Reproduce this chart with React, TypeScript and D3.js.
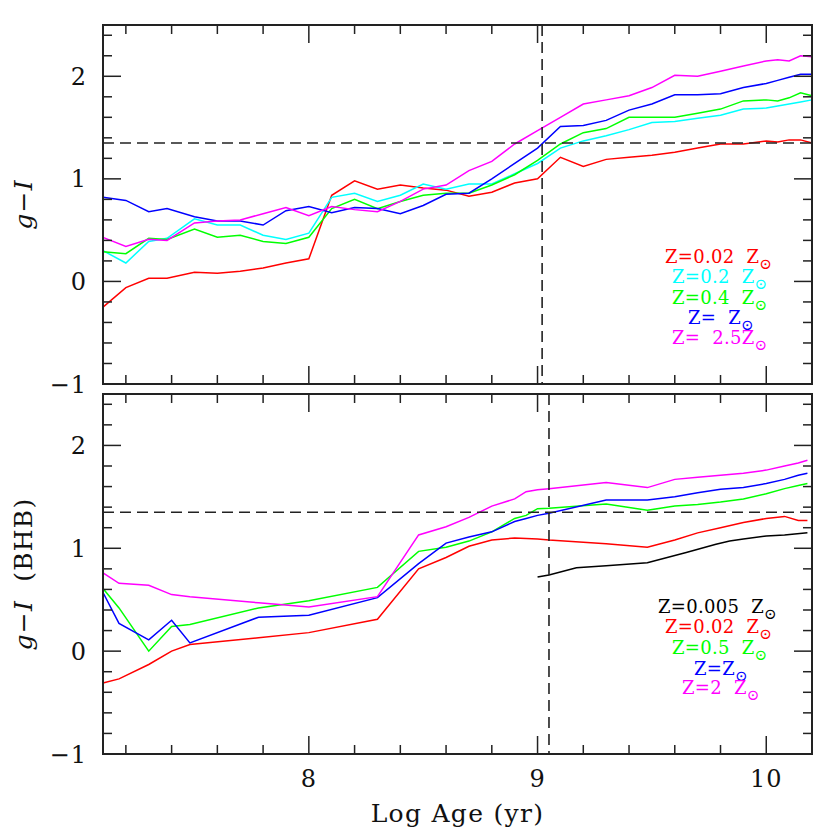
import React from "react";
import * as d3 from "d3";

// ---------- DATA ----------
const topAges = [7.1, 7.2, 7.3, 7.38, 7.5, 7.6, 7.7, 7.8, 7.9, 8.0, 8.1, 8.2, 8.3, 8.4, 8.5, 8.6, 8.7, 8.8, 8.9, 9.0, 9.1, 9.2, 9.3, 9.4, 9.5, 9.6, 9.7, 9.8, 9.9, 10.0, 10.05, 10.1, 10.15, 10.2];
const topZ002 = [-0.25, -0.06, 0.03, 0.03, 0.09, 0.08, 0.1, 0.13, 0.18, 0.22, 0.84, 0.98, 0.9, 0.94, 0.91, 0.89, 0.83, 0.87, 0.96, 1.0, 1.21, 1.12, 1.19, 1.21, 1.23, 1.26, 1.3, 1.34, 1.34, 1.37, 1.36, 1.38, 1.38, 1.35];
const topZ02 = [0.3, 0.18, 0.39, 0.42, 0.61, 0.55, 0.55, 0.45, 0.41, 0.47, 0.82, 0.86, 0.78, 0.84, 0.95, 0.9, 0.95, 0.95, 1.05, 1.15, 1.3, 1.37, 1.42, 1.48, 1.55, 1.56, 1.59, 1.62, 1.68, 1.69, 1.71, 1.73, 1.75, 1.77];
const topZ04 = [0.29, 0.27, 0.42, 0.41, 0.51, 0.43, 0.45, 0.39, 0.37, 0.43, 0.71, 0.8, 0.71, 0.78, 0.84, 0.86, 0.86, 0.94, 1.04, 1.18, 1.34, 1.45, 1.49, 1.6, 1.6, 1.6, 1.64, 1.68, 1.76, 1.77, 1.76, 1.79, 1.84, 1.81];
const topZ1 = [0.82, 0.79, 0.68, 0.71, 0.63, 0.59, 0.59, 0.55, 0.69, 0.73, 0.67, 0.72, 0.71, 0.66, 0.74, 0.85, 0.86, 1.0, 1.15, 1.3, 1.51, 1.52, 1.57, 1.67, 1.73, 1.82, 1.82, 1.83, 1.89, 1.93, 1.96, 1.99, 2.02, 2.02];
const topZ25 = [0.43, 0.34, 0.41, 0.4, 0.57, 0.59, 0.6, 0.66, 0.72, 0.64, 0.73, 0.7, 0.68, 0.78, 0.9, 0.94, 1.08, 1.17, 1.34, 1.47, 1.6, 1.73, 1.77, 1.81, 1.89, 2.01, 2.0, 2.05, 2.1, 2.15, 2.16, 2.15, 2.2, 2.19];

const botAges = [7.1, 7.17, 7.3, 7.4, 7.48, 7.78, 8.0, 8.3, 8.48, 8.6, 8.7, 8.8, 8.9, 8.95, 9.0, 9.05, 9.3, 9.48, 9.6, 9.7, 9.8, 9.9, 10.0, 10.08, 10.14, 10.18];
const botZ002 = [-0.31, -0.27, -0.13, 0.0, 0.065, 0.13, 0.18, 0.31, 0.8, 0.91, 1.02, 1.08, 1.1, 1.095, 1.09, 1.08, 1.045, 1.01, 1.08, 1.15, 1.2, 1.25, 1.29, 1.31, 1.27, 1.27];
const botZ05 = [0.61, 0.42, 0.0, 0.24, 0.26, 0.42, 0.49, 0.62, 0.97, 1.01, 1.07, 1.16, 1.29, 1.32, 1.385, 1.39, 1.43, 1.37, 1.41, 1.425, 1.45, 1.48, 1.53, 1.58, 1.61, 1.63];
const botZ1 = [0.57, 0.27, 0.11, 0.3, 0.08, 0.33, 0.35, 0.52, 0.85, 1.05, 1.11, 1.16, 1.26, 1.29, 1.32, 1.34, 1.47, 1.47, 1.5, 1.54, 1.575, 1.59, 1.63, 1.67, 1.71, 1.73];
const botZ2 = [0.76, 0.66, 0.64, 0.55, 0.53, 0.47, 0.43, 0.53, 1.13, 1.21, 1.3, 1.41, 1.48, 1.55, 1.57, 1.58, 1.64, 1.59, 1.67, 1.69, 1.71, 1.73, 1.76, 1.8, 1.83, 1.855];
const blackAges = [9.0, 9.05, 9.17, 9.3, 9.48, 9.65, 9.78, 9.84, 9.9, 10.0, 10.08, 10.18];
const botZ0005 = [0.72, 0.74, 0.81, 0.83, 0.86, 0.96, 1.04, 1.07, 1.09, 1.12, 1.13, 1.15];

const xTickLabels = [8, 9, 10];
const yTickLabels = [-1, 0, 1, 2];
const topLegend = ["Z=0.02  Z", "Z=0.2  Z", "Z=0.4  Z", "Z=  Z", "Z=  2.5Z"];
const botLegend = ["Z=0.005  Z", "Z=0.02  Z", "Z=0.5  Z", "Z=Z", "Z=2  Z"];

const topThreshold = 1.35;
const topAgeLine = 9.02;
const botThreshold = 1.35;
const botAgeLine = 9.05;

// ---------- LAYOUT ----------
const X0 = 103, X1 = 812;
const TOP = { y0: 25, y1: 384 };
const BOT = { y0: 394, y1: 754 };
const FONT = "'DejaVu Serif', 'Liberation Serif', serif";

const x = d3.scaleLinear().domain([7.1, 10.2]).range([X0, X1]);

function Panel({ y0, y1, series, hLine, vLine, showXLabels, legend, legendPos, ylabel }: any) {
  const y = d3.scaleLinear().domain([-1, 2.5]).range([y1, y0]);
  const line = d3
    .line<[number, number | null]>()
    .defined((d) => d[1] !== null)
    .x((d) => x(d[0]))
    .y((d) => y(d[1] as number));
  const xMinor = d3.range(7.2, 10.2, 0.2).map((v) => +v.toFixed(2));
  const yMinor = d3.range(-0.8, 2.5, 0.2).map((v) => +v.toFixed(2));
  const isMajor = (v: number) => Math.abs(v - Math.round(v)) < 1e-6;
  const ticks: any[] = [];
  xMinor.forEach((v) => {
    const L = isMajor(v) ? 18 : 9;
    ticks.push(<line key={"xb" + v} x1={x(v)} x2={x(v)} y1={y1} y2={y1 - L} />);
    ticks.push(<line key={"xt" + v} x1={x(v)} x2={x(v)} y1={y0} y2={y0 + L} />);
  });
  yMinor.forEach((v) => {
    const L = isMajor(v) ? 18 : 9;
    ticks.push(<line key={"yl" + v} x1={X0} x2={X0 + L} y1={y(v)} y2={y(v)} />);
    ticks.push(<line key={"yr" + v} x1={X1} x2={X1 - L} y1={y(v)} y2={y(v)} />);
  });
  return (
    <g>
      <g>
        {series.map((s: any, i: number) => (
          <path
            key={i}
            d={line(s.ages.map((a: number, j: number) => [a, s.values[j]])) || ""}
            fill="none"
            stroke={s.color}
            strokeWidth={1.5}
          />
        ))}
      </g>
      <line x1={X0} x2={X1} y1={y(hLine)} y2={y(hLine)} stroke="#222" strokeWidth={1.6} strokeDasharray="11,6" />
      <line x1={x(vLine)} x2={x(vLine)} y1={y0} y2={y1} stroke="#222" strokeWidth={1.6} strokeDasharray="11,6" />
      <g stroke="#222" strokeWidth={1.5}>{ticks}</g>
      <rect x={X0} y={y0} width={X1 - X0} height={y1 - y0} fill="none" stroke="#222" strokeWidth={2} />
      {yTickLabels.map((v) => (
        <text key={"yl" + v} x={87} y={y(v)} dy="0.36em" textAnchor="end" fontSize={24} fontFamily={FONT} fill="#111" letterSpacing={1}>
          {v < 0 ? "\u2212" + Math.abs(v) : v}
        </text>
      ))}
      {showXLabels &&
        xTickLabels.map((v) => (
          <text key={"xl" + v} x={x(v)} y={787} textAnchor="middle" fontSize={24} fontFamily={FONT} fill="#111" letterSpacing={1}>
            {v}
          </text>
        ))}
      <text
        transform={`translate(32,${(y0 + y1) / 2}) rotate(-90)`}
        textAnchor="middle"
        fontSize={25}
        fontFamily={FONT}
        fill="#111"
        letterSpacing={1.2}
        style={{ whiteSpace: "pre" }}
      >
        <tspan fontStyle="italic">g</tspan>
        <tspan>{"\u2212"}</tspan>
        <tspan fontStyle="italic">I</tspan>
        {ylabel}
      </text>
      {legend.map((t: string, i: number) => (
        <text
          key={"lg" + i}
          x={legendPos[i][0]}
          y={legendPos[i][1]}
          dy="0.36em"
          fontSize={18}
          fontFamily={FONT}
          letterSpacing={0.3}
          style={{ whiteSpace: "pre" }}
          fill={series[i].color}
        >
          {t}
          <tspan fontSize={15} dy={6}>{"\u2299"}</tspan>
        </text>
      ))}
    </g>
  );
}

export default function App() {
  const topSeries = [
    { ages: topAges, values: topZ002, color: "#ff0000" },
    { ages: topAges, values: topZ02, color: "#00ffff" },
    { ages: topAges, values: topZ04, color: "#00ff00" },
    { ages: topAges, values: topZ1, color: "#0000ff" },
    { ages: topAges, values: topZ25, color: "#ff00ff" },
  ];
  const botSeries = [
    { ages: blackAges, values: botZ0005, color: "#000000" },
    { ages: botAges, values: botZ002, color: "#ff0000" },
    { ages: botAges, values: botZ05, color: "#00ff00" },
    { ages: botAges, values: botZ1, color: "#0000ff" },
    { ages: botAges, values: botZ2, color: "#ff00ff" },
  ];
  const topLegendPos = [[665, 257], [672, 277], [672, 298], [688, 318], [672, 338]];
  const botLegendPos = [[658, 607], [665, 627], [672, 648], [694, 669], [682, 688]];
  return (
    <svg width={830} height={830} style={{ position: "absolute", left: 0, top: 0, background: "#fff" }}>
      <rect width={830} height={830} fill="#fff" />
      <Panel y0={TOP.y0} y1={TOP.y1} series={topSeries} hLine={topThreshold} vLine={topAgeLine} showXLabels={false} legend={topLegend} legendPos={topLegendPos} ylabel="" />
      <Panel y0={BOT.y0} y1={BOT.y1} series={botSeries} hLine={botThreshold} vLine={botAgeLine} showXLabels={true} legend={botLegend} legendPos={botLegendPos} ylabel={"  (BHB)"} />
      <text x={(X0 + X1) / 2} y={822} textAnchor="middle" fontSize={25} fontFamily={FONT} fill="#111" letterSpacing={1.3} style={{ whiteSpace: "pre" }}>
        Log Age (yr)
      </text>
    </svg>
  );
}
